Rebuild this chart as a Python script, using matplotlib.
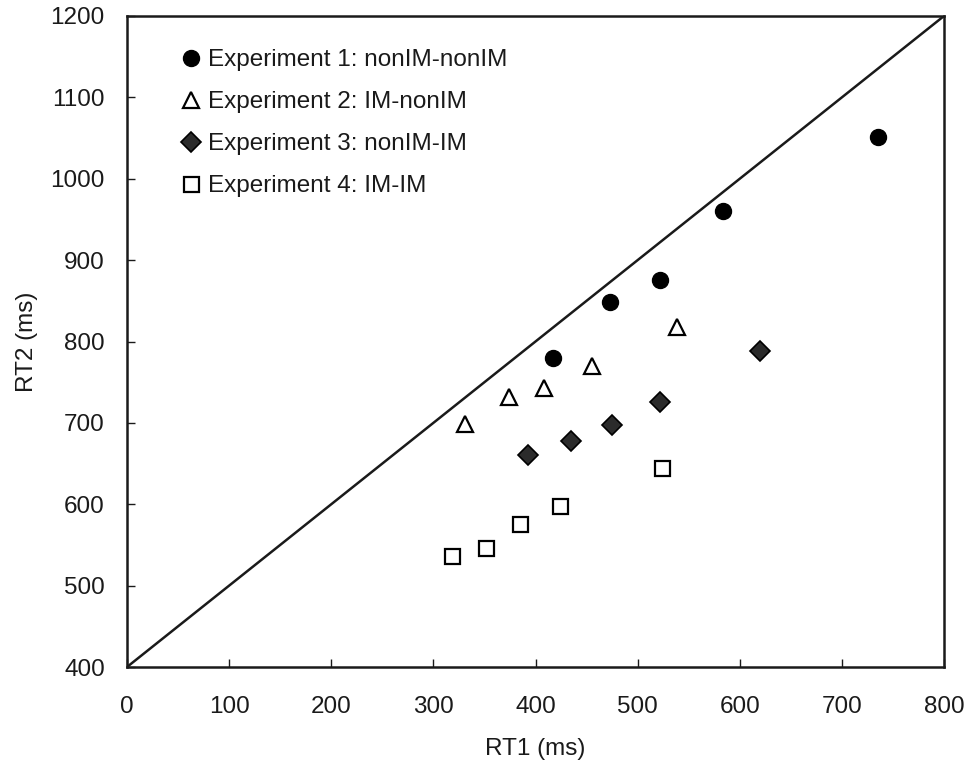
import numpy as np
import matplotlib
matplotlib.use("Agg")
import matplotlib.pyplot as plt

plt.rcParams['font.family'] = ['Liberation Sans', 'DejaVu Sans']

# RT1 / RT2 (ms)
exp1_rt1 = [417, 473, 522, 584, 735]
exp1_rt2 = [780, 848, 875, 960, 1051]

exp2_rt1 = [331, 374, 408, 455, 539]
exp2_rt2 = [699, 732, 743, 770, 818]

exp3_rt1 = [393, 435, 475, 522, 620]
exp3_rt2 = [661, 678, 698, 726, 788]

exp4_rt1 = [318, 352, 385, 424, 524]
exp4_rt2 = [537, 546, 576, 598, 644]

labels = ["Experiment 1: nonIM-nonIM", "Experiment 2: IM-nonIM",
          "Experiment 3: nonIM-IM", "Experiment 4: IM-IM"]

x_ticks = [0, 100, 200, 300, 400, 500, 600, 700, 800]
y_ticks = [400, 500, 600, 700, 800, 900, 1000, 1100, 1200]

fig = plt.figure(figsize=(9.67, 7.61), dpi=100)
ax = fig.add_axes([127 / 967, 1 - 667 / 761, 817 / 967, 651 / 761])

# identity line RT2 = RT1 + 400 across the plot
ax.plot([0, 800], [400, 1200], color='#1a1a1a', lw=1.8, zorder=1)

ax.plot(exp1_rt1, exp1_rt2, 'o', ms=11.5, mfc='black', mec='black',
        ls='none', label=labels[0])
ax.plot(exp2_rt1, exp2_rt2, '^', ms=11.5, mfc='white', mec='black',
        mew=1.6, ls='none', label=labels[1])
ax.plot(exp3_rt1, exp3_rt2, 'D', ms=10, mfc='#2b2b2b', mec='black',
        mew=1.2, ls='none', label=labels[2])
ax.plot(exp4_rt1, exp4_rt2, 's', ms=10.8, mfc='white', mec='black',
        mew=1.6, ls='none', label=labels[3])

ax.set_xlim(0, 800)
ax.set_ylim(400, 1200)
ax.set_xticks(x_ticks)
ax.set_yticks(y_ticks)

ax.tick_params(axis='x', direction='in', length=6, width=1, pad=21,
               labelsize=17.5, colors='#1a1a1a')
ax.tick_params(axis='y', direction='in', length=6, width=1, pad=16,
               labelsize=17.5, colors='#1a1a1a')
for sp in ax.spines.values():
    sp.set_linewidth(1.8)
    sp.set_color('#1a1a1a')

ax.set_xlabel('RT1 (ms)', fontsize=17.5, color='#1a1a1a', labelpad=14)
ax.set_ylabel('RT2 (ms)', fontsize=17.5, color='#1a1a1a', labelpad=9)

ax.legend(loc='upper left', bbox_to_anchor=(0.0685, 0.949), frameon=False,
          fontsize=17.5, handlelength=0.7, handletextpad=0.35,
          labelspacing=0.82, borderpad=0, borderaxespad=0,
          labelcolor='#1a1a1a')

fig.savefig('out.png', dpi=100)
